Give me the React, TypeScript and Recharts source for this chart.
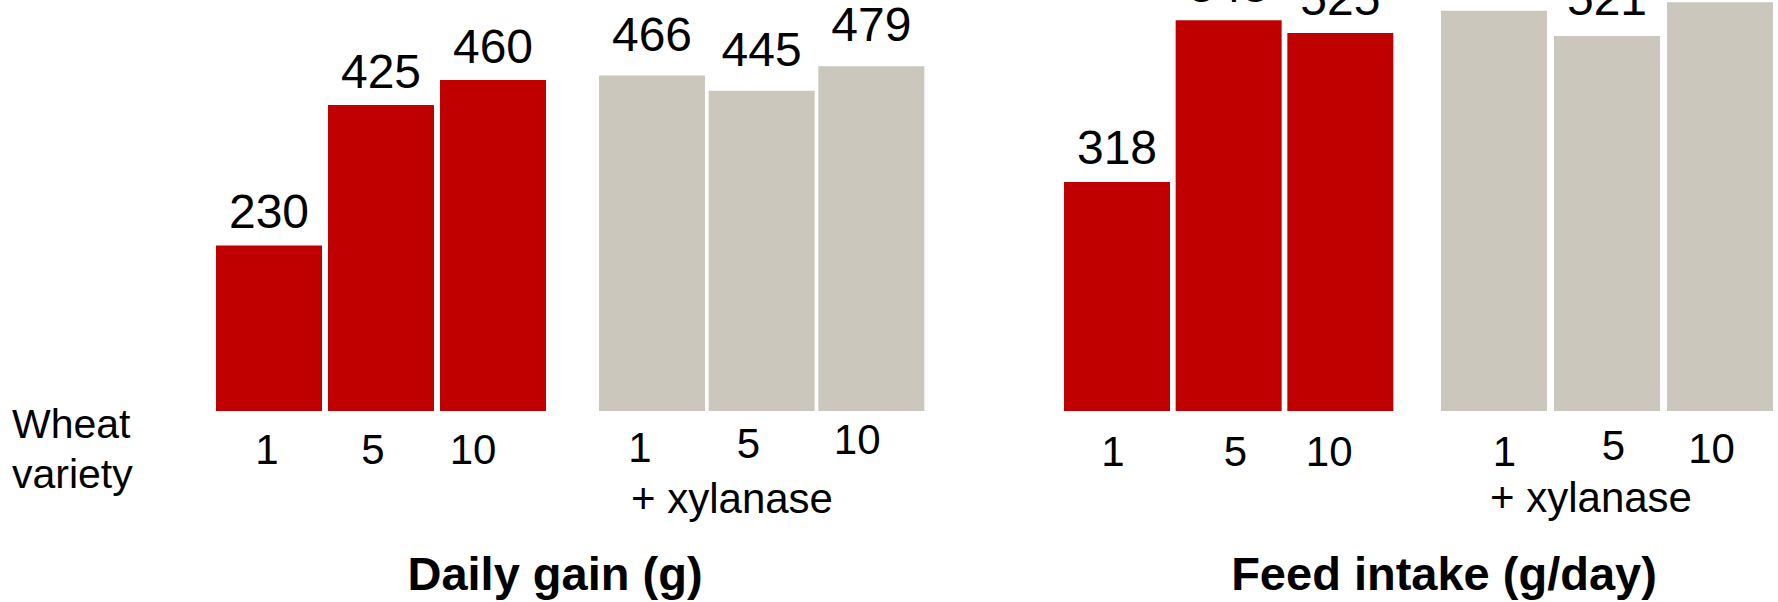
import React from 'react';
import { BarChart, Bar, XAxis, YAxis, LabelList } from 'recharts';

// Wheat varieties shown under each group of bars
const varieties = ['1', '5', '10'];

// Daily gain (g)
const gainPlain = [230, 425, 460];
const gainXylanase = [466, 445, 479];

// Feed intake (g/day)
const intakePlain = [318, 543, 525];
const intakeXylanase = [556, 521, 568];

const RED = '#C00000';
const GREY = '#CBC7BC';
const FONT = '"Liberation Sans", Arial, Helvetica, sans-serif';

const PAGE_W = 1778;
const PAGE_H = 602;
const AXIS_H = 191; // room below the bars for the variety numbers
const Y_MAX = 571;
const BAR_W = 106;
const SIDE_PAD = 30;

type Shift = [number, number];

type GroupProps = {
  values: number[];
  color: string;
  left: number;
  width: number;
  shifts: Shift[];
  labelGap: number;
};

// One cluster of three bars with its own category axis; all clusters share the same value scale.
function Group({ values, color, left, width, shifts, labelGap }: GroupProps) {
  const data = varieties.map((v, i) => ({ variety: v, value: values[i] }));

  const VarietyTick = (props: any) => {
    const { x, y, payload, index } = props;
    const [dx, dy] = shifts[index] ?? [0, 0];
    return (
      <text
        x={x + dx}
        y={y + 53 + dy}
        textAnchor="middle"
        fontSize={42}
        fontFamily={FONT}
        fill="#000"
      >
        {payload.value}
      </text>
    );
  };

  return (
    <div style={{ position: 'absolute', left: left - SIDE_PAD, top: 0 }}>
      <BarChart
        width={width + SIDE_PAD * 2}
        height={PAGE_H}
        data={data}
        margin={{ top: 0, right: SIDE_PAD, bottom: 0, left: SIDE_PAD }}
        barCategoryGap={0}
      >
        <XAxis
          dataKey="variety"
          height={AXIS_H}
          axisLine={false}
          tickLine={false}
          tickSize={0}
          tickMargin={0}
          interval={0}
          tick={VarietyTick}
        />
        <YAxis hide type="number" domain={[0, Y_MAX]} allowDataOverflow />
        <Bar dataKey="value" fill={color} barSize={BAR_W} isAnimationActive={false}>
          <LabelList
            dataKey="value"
            position="top"
            offset={labelGap}
            fontSize={48}
            fontFamily={FONT}
            fill="#000"
          />
        </Bar>
      </BarChart>
    </div>
  );
}

export default function App() {
  return (
    <div
      style={{
        position: 'absolute',
        left: 0,
        top: 0,
        width: PAGE_W,
        height: PAGE_H,
        overflow: 'hidden',
        background: '#fff',
      }}
    >
      <Group
        values={gainPlain}
        color={RED}
        left={213}
        width={336}
        labelGap={17}
        shifts={[[-2, 0], [-8, 0], [-20, 0]]}
      />
      <Group
        values={gainXylanase}
        color={GREY}
        left={597}
        width={329}
        labelGap={25}
        shifts={[[-12, -2], [-13, -6], [-14, -10]]}
      />
      <Group
        values={intakePlain}
        color={RED}
        left={1061}
        width={335}
        labelGap={18}
        shifts={[[-4, 2], [7, 2], [-11, 2]]}
      />
      <Group
        values={intakeXylanase}
        color={GREY}
        left={1437}
        width={339}
        labelGap={21}
        shifts={[[11, 2], [7, -4], [-8, -1]]}
      />

      <svg
        width={PAGE_W}
        height={PAGE_H}
        style={{ position: 'absolute', left: 0, top: 0, pointerEvents: 'none' }}
      >
        <g fontFamily={FONT} fill="#000">
          <text x={12} y={438} fontSize={41}>Wheat</text>
          <text x={12} y={488} fontSize={41}>variety</text>

          <text x={732} y={513} fontSize={42} textAnchor="middle">+ xylanase</text>
          <text x={1591} y={512} fontSize={42} textAnchor="middle">+ xylanase</text>

          <text x={555} y={590} fontSize={47} fontWeight="bold" textAnchor="middle">
            Daily gain (g)
          </text>
          <text x={1444} y={590} fontSize={47} fontWeight="bold" textAnchor="middle">
            Feed intake (g/day)
          </text>
        </g>
      </svg>
    </div>
  );
}
